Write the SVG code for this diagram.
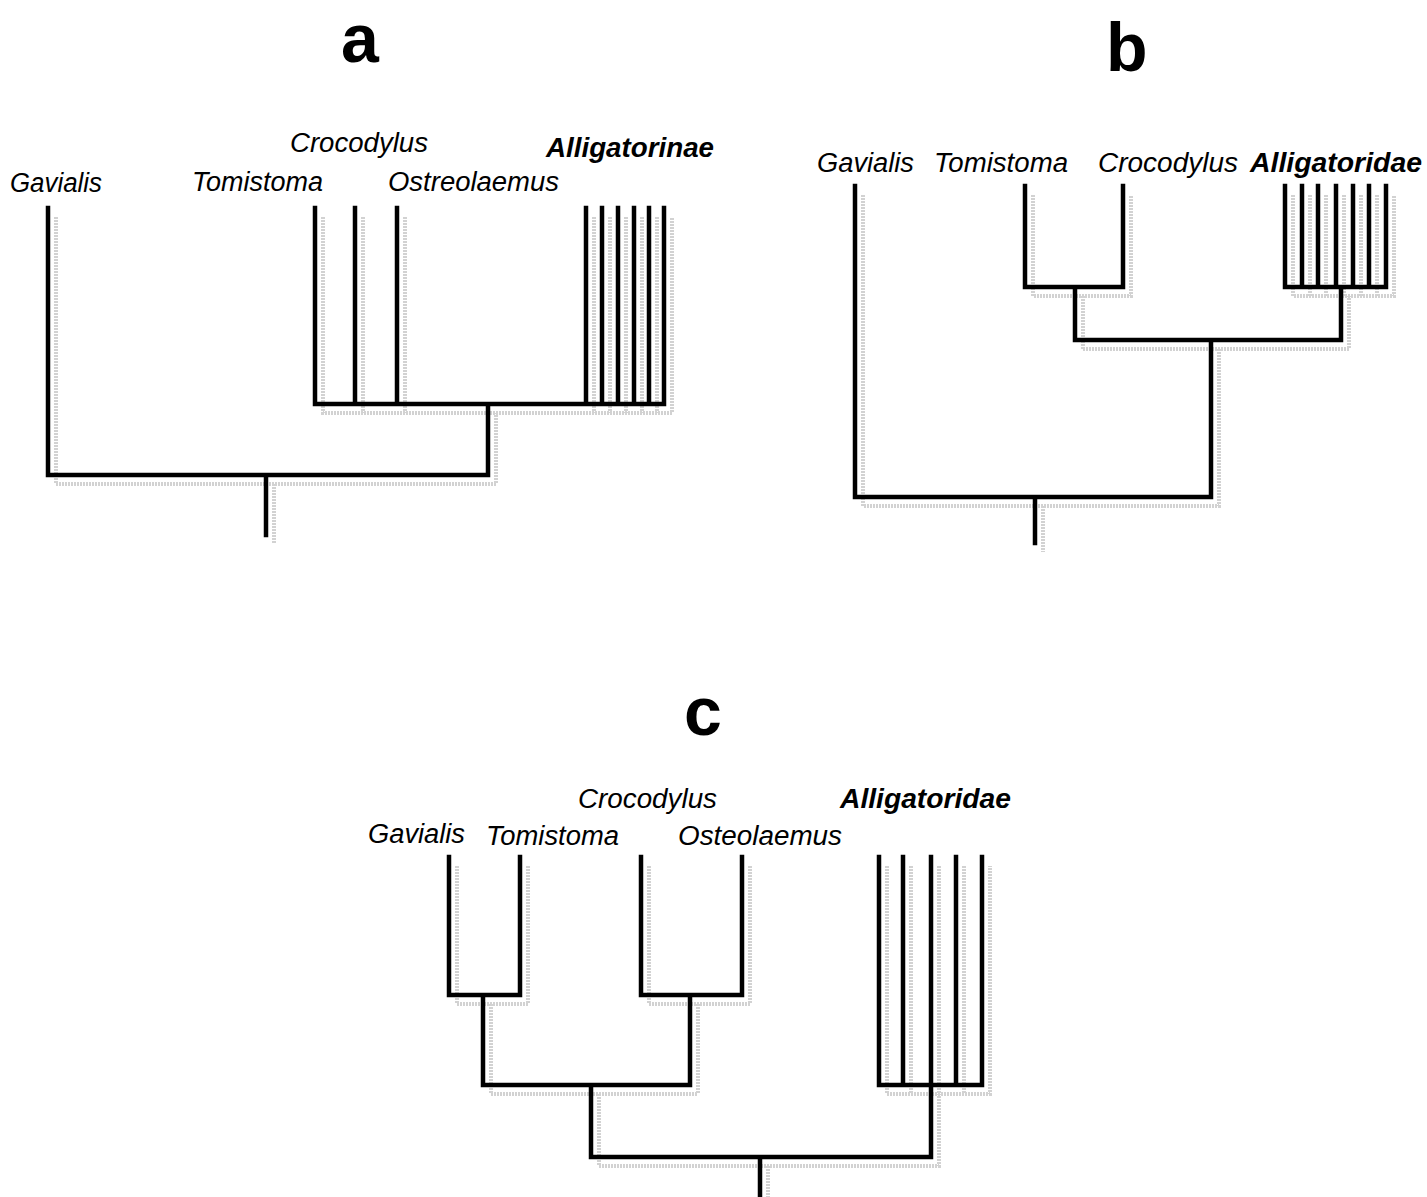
<svg xmlns="http://www.w3.org/2000/svg" width="1427" height="1197" viewBox="0 0 1427 1197">
<defs>
<style>
.ln{fill:none;stroke:#000;stroke-width:4.5;stroke-linejoin:miter;stroke-linecap:square}
.sh{fill:none;stroke:#d2d2d2;stroke-width:4;stroke-dasharray:2 1;stroke-linecap:butt}
.tx{font-family:"Liberation Sans",Arial,sans-serif;font-style:italic;font-size:27px;fill:#000}
.bd{font-weight:bold}
.pl{font-family:"Liberation Sans",Arial,sans-serif;font-weight:bold;font-size:68px;fill:#000}
</style>
<path id="treeA" d="M48,208 V475 H488 V404 M266,475 V535 M315,208 V404 H664 V208 M355,208 V404 M397,208 V404 M586,208 V404 M602,208 V404 M618,208 V404 M634,208 V404 M649,208 V404"/>
<path id="treeB" d="M855,186 V497 H1211 V340 M1035,497 V543 M1075,340 V287 M1025,186 V287 H1123 V186 M1075,340 H1341 V287 M1285,186 V287 H1386 V186 M1302,186 V287 M1318,186 V287 M1336,186 V287 M1353,186 V287 M1369,186 V287"/>
<path id="treeC" d="M449,857 V995 H520 V857 M483,995 V1085 M641,857 V995 H742 V857 M690,995 V1085 M483,1085 H690 M591,1085 V1157 H931 V1085 M760,1157 V1197 M879,857 V1085 H982 V857 M903,857 V1085 M931,857 V1085 M956,857 V1085"/>
</defs>
<rect width="1427" height="1197" fill="#fff"/>

<g id="panel-labels">
<text class="pl" x="341" y="62">a</text>
<text class="pl" x="1106" y="71">b</text>
<text class="pl" x="684" y="735">c</text>
</g>

<g id="connectors">
<g id="shadows" transform="translate(8,9)">
<use href="#treeA" class="sh"/>
<use href="#treeB" class="sh"/>
<use href="#treeC" class="sh"/>
</g>
<use href="#treeA" class="ln"/>
<use href="#treeB" class="ln"/>
<use href="#treeC" class="ln"/>
</g>

<g id="a-gavialis"><text class="tx" x="10" y="192" textLength="92" lengthAdjust="spacingAndGlyphs">Gavialis</text></g>
<g id="a-tomistoma"><text class="tx" x="192" y="191" textLength="131" lengthAdjust="spacingAndGlyphs">Tomistoma</text></g>
<g id="a-crocodylus"><text class="tx" x="290" y="152" textLength="138" lengthAdjust="spacingAndGlyphs">Crocodylus</text></g>
<g id="a-ostreolaemus"><text class="tx" x="388" y="191" textLength="171" lengthAdjust="spacingAndGlyphs">Ostreolaemus</text></g>
<g id="a-alligatorinae"><text class="tx bd" x="546" y="157" textLength="168" lengthAdjust="spacingAndGlyphs">Alligatorinae</text></g>

<g id="b-gavialis"><text class="tx" x="817" y="172" textLength="97" lengthAdjust="spacingAndGlyphs">Gavialis</text></g>
<g id="b-tomistoma"><text class="tx" x="934" y="172" textLength="134" lengthAdjust="spacingAndGlyphs">Tomistoma</text></g>
<g id="b-crocodylus"><text class="tx" x="1098" y="172" textLength="140" lengthAdjust="spacingAndGlyphs">Crocodylus</text></g>
<g id="b-alligatoridae"><text class="tx bd" x="1250" y="172" textLength="172" lengthAdjust="spacingAndGlyphs">Alligatoridae</text></g>

<g id="c-gavialis"><text class="tx" x="368" y="843" textLength="97" lengthAdjust="spacingAndGlyphs">Gavialis</text></g>
<g id="c-tomistoma"><text class="tx" x="486" y="845" textLength="133" lengthAdjust="spacingAndGlyphs">Tomistoma</text></g>
<g id="c-crocodylus"><text class="tx" x="578" y="808" textLength="139" lengthAdjust="spacingAndGlyphs">Crocodylus</text></g>
<g id="c-osteolaemus"><text class="tx" x="678" y="845" textLength="164" lengthAdjust="spacingAndGlyphs">Osteolaemus</text></g>
<g id="c-alligatoridae"><text class="tx bd" x="840" y="808" textLength="171" lengthAdjust="spacingAndGlyphs">Alligatoridae</text></g>
</svg>
